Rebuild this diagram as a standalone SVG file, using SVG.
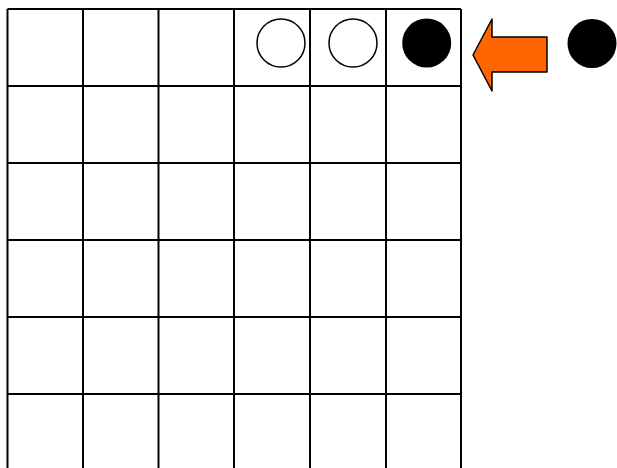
<svg xmlns="http://www.w3.org/2000/svg" width="617" height="468" viewBox="0 0 617 468">
<style>
.g{stroke:#000;stroke-width:2;fill:none}
.w{fill:#fff;stroke:#000;stroke-width:1.5}
.b{fill:#000}
</style>
<rect width="617" height="468" fill="#fff"/>
<g id="grid" class="g">
<path d="M7.5 9V468M83 9V468M158.5 9V468M234 9V468M310 9V468M386 9V468M461 9V468"/>
<path d="M7.5 9H461M7.5 86H461M7.5 163H461M7.5 240H461M7.5 317H461M7.5 394H461"/>
</g>
<g id="stone1"><circle class="w" cx="281" cy="43" r="24"/></g>
<g id="stone2"><circle class="w" cx="353" cy="43" r="24"/></g>
<g id="stone3"><circle class="b" cx="426.7" cy="43" r="24.5"/></g>
<g id="arrow"><path d="M547 37H492V19L473 55L492 91V72H547Z" fill="#ff6600" stroke="#000" stroke-width="1.5" stroke-linejoin="round"/></g>
<g id="stone4"><circle class="b" cx="592" cy="43.5" r="24.5"/></g>
</svg>
